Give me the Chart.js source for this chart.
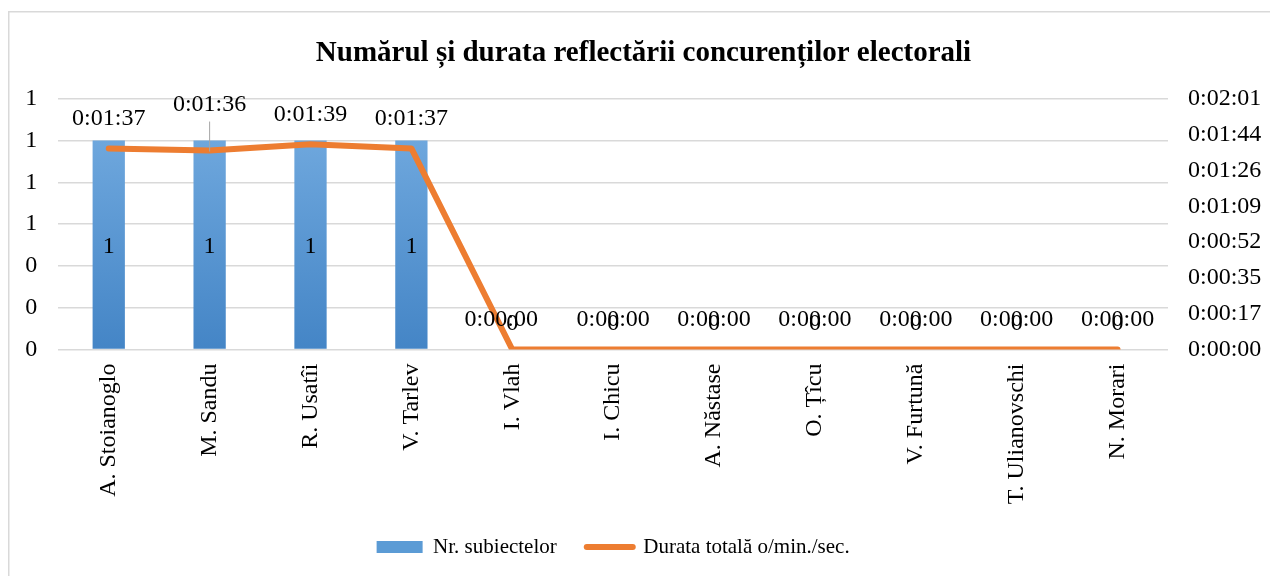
<!DOCTYPE html>
<html>
<head>
<meta charset="utf-8">
<script src="https://cdn.jsdelivr.net/npm/chart.js@4.4.1/dist/chart.umd.min.js"></script>
<style>
  html, body { margin: 0; padding: 0; background: #fff; }
  #wrap { width: 1270px; height: 576px; position: relative; }
</style>
</head>
<body>
<div id="wrap"><canvas id="chart"></canvas></div>
<script>
const candidates = ["A. Stoianoglo", "M. Sandu", "R. Usatîi", "V. Tarlev", "I. Vlah", "I. Chicu",
  "A. Năstase", "O. Țîcu", "V. Furtună", "T. Ulianovschi", "N. Morari"];
const subjects = [1, 1, 1, 1, 0, 0, 0, 0, 0, 0, 0];
// total duration in seconds
const durationSec = [97, 96, 99, 97, 0, 0, 0, 0, 0, 0, 0];
const seriesNames = ["Nr. subiectelor", "Durata totală o/min./sec."];
const countTicks = ["0", "0", "0", "1", "1", "1", "1"];
const durationTicks = ["0:00:00", "0:00:17", "0:00:35", "0:00:52", "0:01:09", "0:01:26", "0:01:44", "0:02:01"];

const FONT = '"Liberation Serif", "Times New Roman", serif';
Chart.defaults.font.family = FONT;
Chart.defaults.color = "#000";

function fmtTime(sec) {
  const s = Math.round(sec);
  const m = Math.floor(s / 60);
  const r = s % 60;
  return "0:" + String(m).padStart(2, "0") + ":" + String(r).padStart(2, "0");
}

// frame + white background
const framePlugin = {
  id: "frame",
  beforeDraw(chart) {
    const ctx = chart.ctx;
    ctx.save();
    ctx.fillStyle = "#fff";
    ctx.fillRect(0, 0, chart.width, chart.height);
    ctx.strokeStyle = "#d9d9d9";
    ctx.lineWidth = 1.5;
    ctx.strokeRect(8.75, 11.75, 1300, 620);
    ctx.restore();
  }
};

// value labels on bars and line points
const labelPlugin = {
  id: "valueLabels",
  afterDatasetsDraw(chart) {
    const ctx = chart.ctx;
    ctx.save();
    ctx.font = "24px " + FONT;
    ctx.fillStyle = "#000";
    ctx.textAlign = "center";
    ctx.textBaseline = "middle";

    chart.getDatasetMeta(0).data.forEach((bar, i) => {
      const v = subjects[i];
      const y = v ? (bar.y + bar.base) / 2 + 2 : bar.base - 26;
      ctx.fillText(String(v), bar.x, y);
    });

    // a couple of labels were moved by hand in the original
    const nudge = { 1: [0, -16], 4: [-11, 0] };
    chart.getDatasetMeta(1).data.forEach((pt, i) => {
      const d = nudge[i] || [0, 0];
      const x = pt.x + d[0];
      const y = pt.y - 30 + d[1];
      if (d[1] < 0) {
        ctx.strokeStyle = "#a6a6a6";
        ctx.lineWidth = 1;
        ctx.beginPath();
        ctx.moveTo(x, y + 17);
        ctx.lineTo(x, pt.y + 1);
        ctx.stroke();
      }
      ctx.fillText(fmtTime(durationSec[i]), x, y);
    });
    ctx.restore();
  }
};

const ctx = document.getElementById("chart").getContext("2d");
new Chart(ctx, {
  data: {
    labels: candidates,
    datasets: [
      {
        type: "bar",
        label: seriesNames[0],
        data: subjects,
        yAxisID: "y",
        order: 1,
        categoryPercentage: 1,
        barPercentage: 0.32,
        backgroundColor: c => {
          const area = c.chart.chartArea;
          if (!area) return "#5b9bd5";
          const ys = c.chart.scales.y;
          const g = c.chart.ctx.createLinearGradient(0, ys.getPixelForValue(1), 0, ys.getPixelForValue(0));
          g.addColorStop(0, "#6ea7dd");
          g.addColorStop(1, "#4485c6");
          return g;
        }
      },
      {
        type: "line",
        label: seriesNames[1],
        data: durationSec,
        yAxisID: "y1",
        order: 0,
        borderColor: "#ed7d31",
        backgroundColor: "#ed7d31",
        borderWidth: 6,
        borderCapStyle: "round",
        borderJoinStyle: "round",
        tension: 0,
        pointRadius: 0
      }
    ]
  },
  options: {
    responsive: true,
    maintainAspectRatio: false,
    animation: false,
    layout: { padding: { left: 17, right: 0, top: 0, bottom: 8.5 } },
    plugins: {
      tooltip: { enabled: false },
      title: {
        display: true,
        text: "Numărul și durata reflectării concurenților electorali",
        color: "#000",
        font: { size: 29, weight: "bold" },
        padding: { top: 36, bottom: 28 }
      },
      legend: {
        position: "bottom",
        fullSize: false,
        labels: {
          usePointStyle: true,
          pointStyleWidth: 46,
          boxHeight: 12,
          padding: 30,
          color: "#000",
          font: { size: 21 },
          generateLabels: () => [
            { text: seriesNames[0], fillStyle: "#5b9bd5", strokeStyle: "#5b9bd5", lineWidth: 0,
              pointStyle: "rect", datasetIndex: 0, hidden: false },
            { text: seriesNames[1], fillStyle: "#ed7d31", strokeStyle: "#ed7d31", lineWidth: 6,
              lineCap: "round", pointStyle: "line", datasetIndex: 1, hidden: false }
          ]
        }
      }
    },
    scales: {
      x: {
        grid: { display: false },
        border: { display: false },
        ticks: { autoSkip: false, minRotation: 90, maxRotation: 90, padding: 6, font: { size: 24 } },
        afterFit: s => { s.height = 157; }
      },
      y: {
        position: "left",
        min: 0,
        max: 1.2,
        grid: { color: "#d9d9d9", lineWidth: 1.5, drawTicks: false },
        border: { display: false },
        ticks: { stepSize: 0.2, padding: 21, font: { size: 24 }, callback: (v, i) => countTicks[i] },
        afterFit: s => { s.width = 41.3; }
      },
      y1: {
        position: "right",
        min: 0,
        max: 120.96,
        grid: { display: false, drawTicks: false },
        border: { display: false },
        ticks: { stepSize: 17.28, padding: 20, font: { size: 24 }, callback: (v, i) => durationTicks[i] },
        afterFit: s => { s.width = 102; }
      }
    }
  },
  plugins: [framePlugin, labelPlugin]
});
</script>
</body>
</html>
